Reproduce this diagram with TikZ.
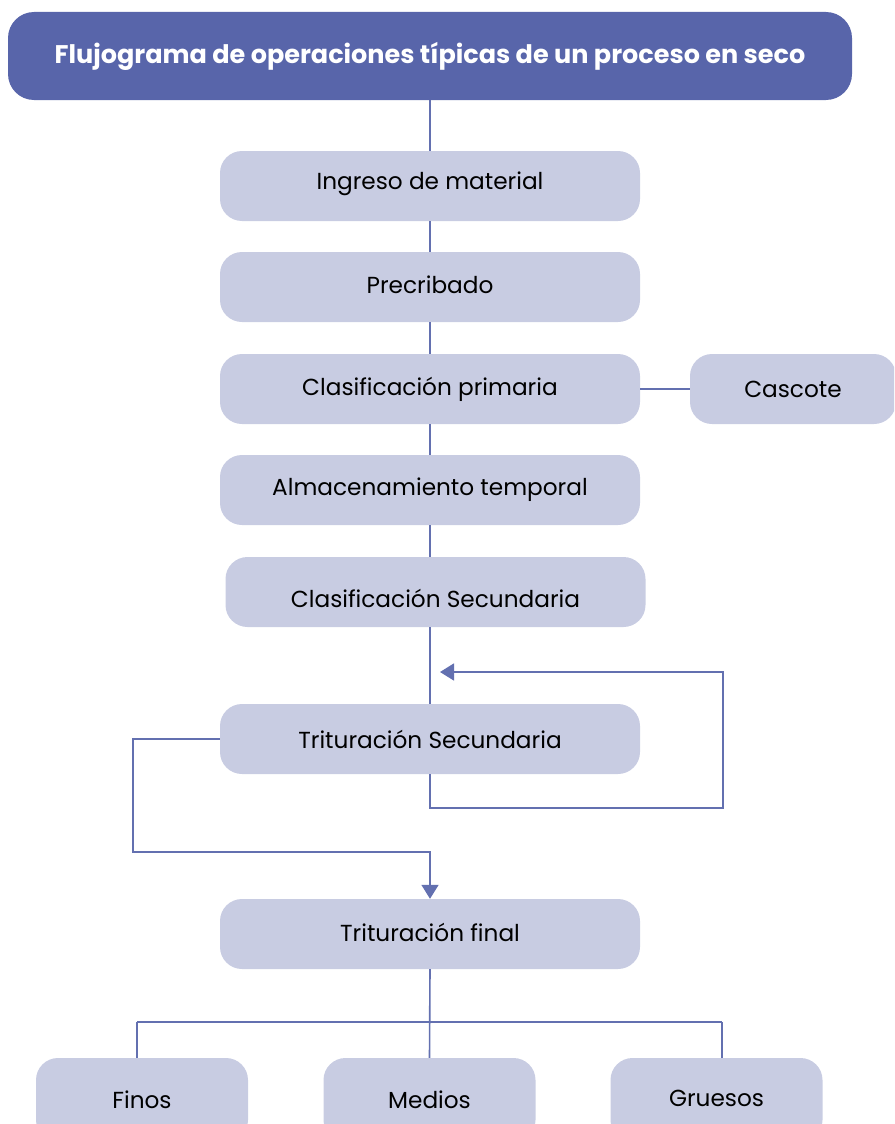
\documentclass[tikz,border=0pt]{standalone}
\usepackage{fontspec}
\setmainfont{Poppins}
\usetikzlibrary{arrows.meta}
\definecolor{headfill}{HTML}{5865AA}
\definecolor{boxfill}{HTML}{C8CCE2}
\definecolor{linecol}{HTML}{6370B0}
% shift a label vertically without changing its box
\newcommand{\shiftlabel}[2]{\raisebox{#1}[\height][\depth]{#2}}
\begin{document}
\begin{tikzpicture}[x=1pt,y=-1pt,
  headbox/.style={fill=headfill, rounded corners=26pt, minimum width=844pt, minimum height=88pt,
    inner sep=0pt, text=white, font=\fontsize{25.5}{30}\selectfont\bfseries},
  stepbox/.style={fill=boxfill, rounded corners=22pt, minimum width=420pt, minimum height=70pt,
    inner sep=0pt, text=black, font=\fontsize{23.2}{28}\selectfont},
  endbox/.style={stepbox, minimum width=212pt, minimum height=84pt},
  conn/.style={draw=linecol, line width=1.6pt},
  tip/.style={-{Triangle[length=14pt,width=17pt]}}
]
\useasboundingbox (0,0) rectangle (894,1124);
\clip (0,0) rectangle (894,1124);

% title
\node[headbox] (title) at (430,56) {Flujograma de operaciones típicas de un proceso en seco};

% main chain
\node[stepbox] (ingreso) at (430,186) {\shiftlabel{2pt}{Ingreso de material}};
\node[stepbox] (precrib) at (430,287) {\shiftlabel{2pt}{Precribado}};
\node[stepbox] (clasprim) at (430,389) {Clasificación primaria};
\node[stepbox, minimum width=206pt] (cascote) at (793,389) {Cascote};
\node[stepbox] (almac) at (430,490) {Almacenamiento temporal};
\node[stepbox] (classec) at (435.5,592) {\shiftlabel{-6pt}{Clasificación Secundaria}};
\node[stepbox] (tritsec) at (430,739) {Trituración Secundaria};
\node[stepbox] (tritfin) at (430,934) {\shiftlabel{2pt}{Trituración final}};

% products
\node[endbox] (finos) at (142,1100) {Finos};
\node[endbox] (medios) at (429.5,1100) {Medios};
\node[endbox] (gruesos) at (716.5,1100) {\shiftlabel{2pt}{Gruesos}};

% helper points of the loops and the distribution bar
\coordinate (loopB) at (723,808);
\coordinate (loopTip) at (440,672);
\coordinate (leftC) at (133,852);
\coordinate (barL) at (137,1022);
\coordinate (barR) at (722,1022);

% straight connectors
\draw[conn] (title.south -| ingreso.north) -- (ingreso.north);
\draw[conn] (ingreso) -- (precrib);
\draw[conn] (precrib) -- (clasprim);
\draw[conn] (clasprim.east) -- (cascote.west);
\draw[conn] (clasprim) -- (almac);
\draw[conn] (almac.south) -- (almac.south |- classec.north);
\draw[conn] (classec.south -| tritsec.north) -- (tritsec.north);

% recirculation loop
\draw[conn, tip] (tritsec.south) |- (loopB) |- (loopTip);

% bypass to final crushing
\draw[conn, tip] (tritsec.west) -| (leftC) -| (tritfin.north);

% distribution to products
\draw[conn] (tritfin.south) -- (medios.north);
\draw[conn] (barL) -- (barR);
\draw[conn] (barL) -- (barL |- finos.north);
\draw[conn] (barR) -- (barR |- gruesos.north);
\end{tikzpicture}
\end{document}
